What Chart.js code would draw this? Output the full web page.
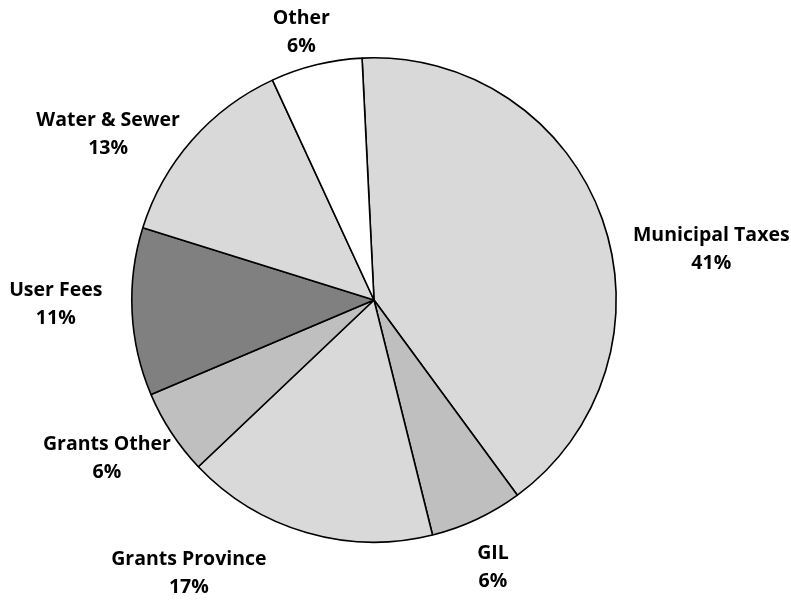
<!DOCTYPE html>
<html>
<head>
<meta charset="utf-8">
<script src="https://cdn.jsdelivr.net/npm/chart.js@4"></script>
<style>
  html, body { margin: 0; padding: 0; background: #ffffff; }
  #wrap { width: 791px; height: 600px; }
</style>
</head>
<body>
<div id="wrap"><canvas id="c" width="791" height="600"></canvas></div>
<script>
// ---- data ----
const categories = ["Municipal Taxes", "GIL", "Grants Province", "Grants Other", "User Fees", "Water & Sewer", "Other"];
const shares = [40.7, 6.2, 16.8, 5.7, 11.2, 13.3, 6.1];
const sliceColors = ["#d9d9d9", "#bfbfbf", "#d9d9d9", "#bfbfbf", "#808080", "#d9d9d9", "#ffffff"];

// label layout: angular shift from slice mid-angle (deg) and distance as fraction of radius
const labelAngleShift = [11.1, 1.2, 17.8, 2.5, 2.0, -9.3, -1.4];
const labelRadiusFactor = [1.408, 1.210, 1.365, 1.283, 1.314, 1.294, 1.143];

const labelPlugin = {
  id: 'outsideLabels',
  afterDatasetsDraw(chart) {
    const ctx = chart.ctx;
    const meta = chart.getDatasetMeta(0);
    const total = shares.reduce((a, b) => a + b, 0);
    ctx.save();
    ctx.fillStyle = '#000000';
    ctx.font = 'bold 19.5px "Open Sans", Lato, sans-serif';
    ctx.textAlign = 'center';
    ctx.textBaseline = 'middle';
    meta.data.forEach((arc, i) => {
      const p = arc.getProps(['x', 'y', 'startAngle', 'endAngle', 'outerRadius'], true);
      const mid = (p.startAngle + p.endAngle) / 2 + labelAngleShift[i] * Math.PI / 180;
      const d = p.outerRadius * labelRadiusFactor[i];
      const cx = p.x + Math.cos(mid) * d;
      const cy = p.y + Math.sin(mid) * d;
      const pct = Math.round(shares[i] / total * 100) + '%';
      ctx.fillText(categories[i], cx, cy - 14);
      ctx.fillText(pct, cx, cy + 14);
    });
    ctx.restore();
  }
};

new Chart(document.getElementById('c'), {
  type: 'pie',
  data: {
    labels: categories,
    datasets: [{
      data: shares,
      backgroundColor: sliceColors,
      borderColor: '#000000',
      borderWidth: 1.6
    }]
  },
  options: {
    responsive: false,
    animation: false,
    rotation: -2.83,
    layout: { padding: { top: 57, bottom: 57, left: 0, right: 43 } },
    plugins: {
      legend: { display: false },
      tooltip: { enabled: false }
    }
  },
  plugins: [labelPlugin]
});
</script>
</body>
</html>
